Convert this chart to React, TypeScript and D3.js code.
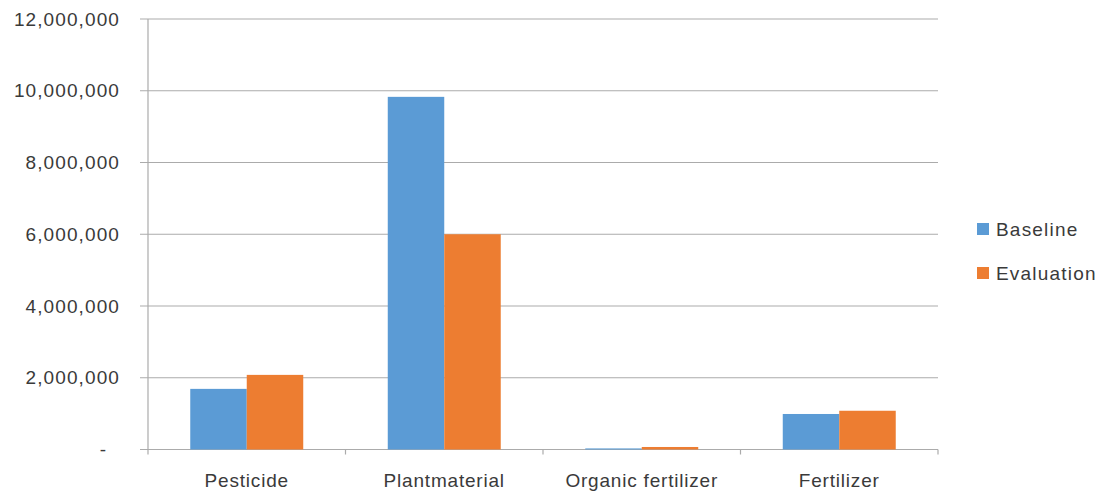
import React from "react";
import * as d3 from "d3";

const categories = ["Pesticide", "Plantmaterial", "Organic fertilizer", "Fertilizer"];
const seriesNames = ["Baseline", "Evaluation"];
const baseline = [1690000, 9830000, 30000, 990000];
const evaluation = [2080000, 6000000, 70000, 1080000];
const yTicks = [0, 2000000, 4000000, 6000000, 8000000, 10000000, 12000000];
const colors = ["#5B9BD5", "#ED7D31"];

const W = 1100;
const H = 494;
const left = 148;
const right = 938;
const top = 19;
const bottom = 449.5;
const font = "'Liberation Sans', Arial, sans-serif";
const textColor = "#3a3a3a";

export default function App() {
  const y = d3.scaleLinear().domain([0, 12000000]).range([bottom, top]);
  const x0 = d3.scaleBand<string>().domain(categories).range([left, right]).padding(0);
  const x1 = d3.scaleBand<string>().domain(seriesNames).range([0, x0.bandwidth()]).paddingInner(0).paddingOuter(0.748);
  const values = [baseline, evaluation];
  const fmt = d3.format(",");
  return (
    <svg width={W} height={H} style={{ position: "absolute", left: 0, top: 0, background: "#fff" }}>
      {yTicks.map((t) => (
        <g key={t}>
          <line x1={left - 8} x2={right} y1={y(t)} y2={y(t)} stroke="#ababab" strokeWidth={1.2} />
          <text
            x={t === 0 ? 106 : 120}
            y={y(t) + 6.5}
            textAnchor="end"
            fontFamily={font}
            fontSize={19}
            letterSpacing={t === 0 ? 0 : 1.1}
            fill={textColor}
          >
            {t === 0 ? "-" : fmt(t)}
          </text>
        </g>
      ))}
      <line x1={left} x2={left} y1={top} y2={bottom + 5} stroke="#ababab" strokeWidth={1.2} />
      {categories.map((c, i) => (
        <g key={c}>
          <line x1={x0(c)! + x0.bandwidth()} x2={x0(c)! + x0.bandwidth()} y1={bottom} y2={bottom + 5} stroke="#ababab" strokeWidth={1.2} />
          {seriesNames.map((s, j) => (
            <rect
              key={s}
              x={x0(c)! + x1(s)!}
              width={x1.bandwidth()}
              y={y(values[j][i])}
              height={bottom - y(values[j][i])}
              fill={colors[j]}
            />
          ))}
          <text
            x={x0(c)! + x0.bandwidth() / 2}
            y={487}
            textAnchor="middle"
            fontFamily={font}
            fontSize={19}
            letterSpacing={0.8}
            fill={textColor}
          >
            {c}
          </text>
        </g>
      ))}
      {seriesNames.map((s, j) => (
        <g key={s} transform={`translate(977, ${223 + j * 44})`}>
          <rect x={0} y={0} width={12} height={12} fill={colors[j]} />
          <text x={19} y={13} fontFamily={font} fontSize={19} letterSpacing={1.2} fill={textColor}>
            {s}
          </text>
        </g>
      ))}
    </svg>
  );
}
